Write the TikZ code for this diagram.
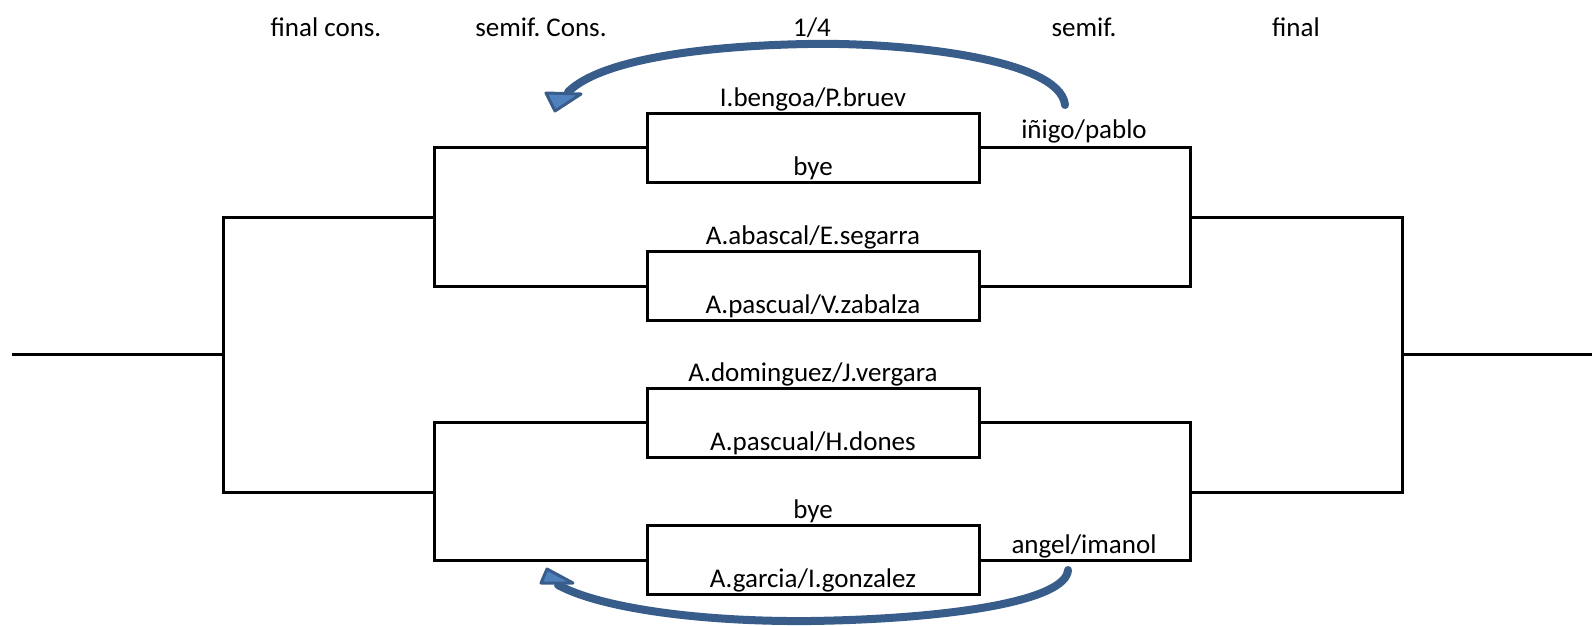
\documentclass[tikz,border=0pt]{standalone}
\usepackage{fontspec}
\setmainfont{Carlito}
\frenchspacing
\definecolor{arrowdark}{RGB}{56,93,138}
\definecolor{arrowlight}{RGB}{79,129,189}
\begin{document}
\begin{tikzpicture}[x=1pt,y=-1pt,
  match/.style={draw=black, line width=3pt, minimum width=332pt, minimum height=69pt, inner sep=0pt},
  lbl/.style={font=\fontsize{27}{31}\selectfont, anchor=base, inner sep=0pt},
  bracket/.style={draw=black, line width=3pt, line join=miter},
  shaft/.style={draw=arrowdark, line width=8pt, line cap=round},
  head/.style={draw=arrowdark, fill=arrowlight, line width=3pt, line join=round}]
\useasboundingbox (0,0) rectangle (1592,625);

% headers
\node[lbl] (h1) at (326,36) {final cons.};
\node[lbl] (h2) at (541,36) {semif. Cons.};
\node[lbl] (h3) at (812,36) {1/4};
\node[lbl] (h4) at (1084,36) {semif.};
\node[lbl] (h5) at (1296,36) {final};

% match boxes
\node[match] (b1) at (813,147.5) {};
\node[match] (b2) at (813,286) {};
\node[match] (b3) at (813,422.5) {};
\node[match] (b4) at (813,560) {};

% player names
\node[lbl] (t1) at (813,106) {I.bengoa/P.bruev};
\node[lbl] (l1) at (813,175) {bye};
\node[lbl] (t2) at (813,244.5) {A.abascal/E.segarra};
\node[lbl] (l2) at (813,313.5) {A.pascual/V.zabalza};
\node[lbl] (t3) at (813,381) {A.dominguez/J.vergara};
\node[lbl] (l3) at (813,450) {A.pascual/H.dones};
\node[lbl] (t4) at (813,518.5) {bye};
\node[lbl] (l4) at (813,587.5) {A.garcia/I.gonzalez};

\node[lbl] (w1) at (1084,138) {iñigo/pablo};
\node[lbl] (w2) at (1084,553) {angel/imanol};

% bracket coordinates
\coordinate (L) at (12,354);
\coordinate (Lm) at (223,354);
\coordinate (Lt) at (223,217);
\coordinate (Lb) at (223,492);
\coordinate (cu) at (436,217);
\coordinate (cd) at (436,492);
\coordinate (Rt) at (1402,217);
\coordinate (Rb) at (1402,492);
\coordinate (Rm) at (1402,354);
\coordinate (R) at (1592,354);
\coordinate (su) at (1189,217);
\coordinate (sd) at (1189,492);

% left side
\draw[bracket] (b1.west) -- ++(-211,0) |- (b2.west);
\draw[bracket] (b3.west) -- ++(-211,0) |- (b4.west);
\draw[bracket] (cu) -- (Lt) -- (Lb) -- (cd);
\draw[bracket] (L) -- (Lm);

% right side
\draw[bracket] (b1.east) -- ++(210,0) |- (b2.east);
\draw[bracket] (b3.east) -- ++(210,0) |- (b4.east);
\draw[bracket] (su) -- (Rt) -- (Rb) -- (sd);
\draw[bracket] (Rm) -- (R);

% curved arrows
\coordinate (a1s) at (1065,105);
\coordinate (a1e) at (568,92);
\draw[shaft] (a1s) .. controls (1060,58) and (900,42) .. (807,44)
  .. controls (700,46) and (600,60) .. (a1e);
\draw[head] (546,93) -- (581,94) -- (555,111) -- cycle;

\coordinate (a2s) at (1068,570);
\coordinate (a2e) at (558,585);
\draw[shaft] (a2s) .. controls (1066,601) and (950,619) .. (810,621)
  .. controls (700,622) and (600,608) .. (a2e);
\draw[head] (547,569) -- (541,583) -- (573,583) -- cycle;
\end{tikzpicture}
\end{document}
